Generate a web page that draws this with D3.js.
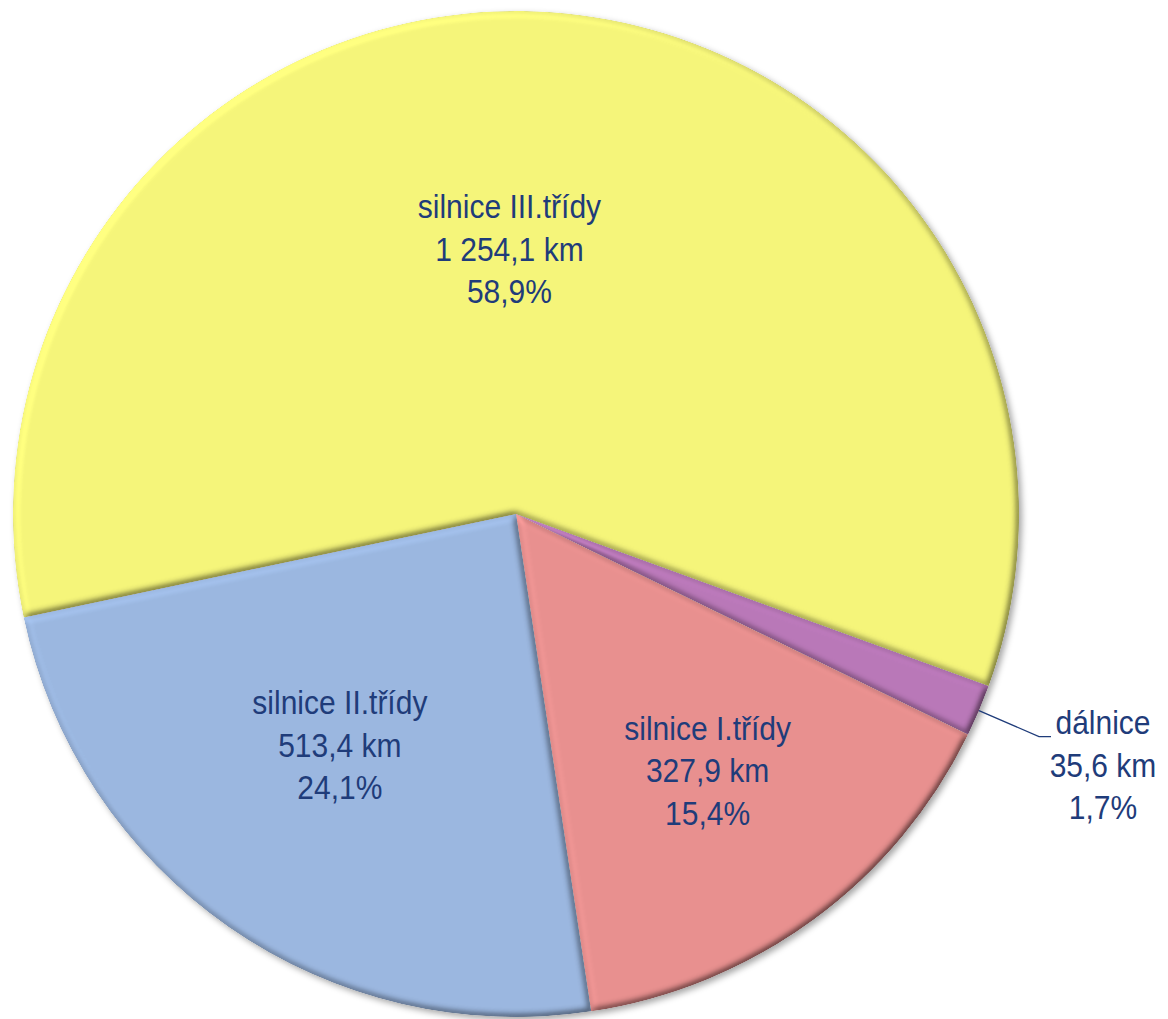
<!DOCTYPE html>
<html>
<head>
<meta charset="utf-8">
<script src="https://cdn.jsdelivr.net/npm/d3@7"></script>
<style>
  body { margin: 0; background: #fff; }
  svg { display: block; }
  .lbl { font-family: "Liberation Sans", Arial, sans-serif; font-size: 30px; fill: #1f3c7a; }
</style>
</head>
<body>
<div id="chart"></div>
<script>
// road lengths by class (km)
var categories = ["dálnice", "silnice I.třídy", "silnice II.třídy", "silnice III.třídy"];
var lengths = [35.6, 327.9, 513.4, 1254.1];
var kmLabels = ["35,6 km", "327,9 km", "513,4 km", "1 254,1 km"];
var pctLabels = ["1,7%", "15,4%", "24,1%", "58,9%"];
var colors = ["#b978b8", "#e8908f", "#9bb7e0", "#f5f57a"];

var width = 1168,
  height = 1019,
  cx = 516,
  cy = 514,
  radius = 503;

var svg = d3
  .select("#chart")
  .append("svg")
  .attr("width", width)
  .attr("height", height);

var defs = svg.append("defs");

// soft shadow round the whole pie
var shadow = defs
  .append("filter")
  .attr("id", "shadow")
  .attr("x", "-10%")
  .attr("y", "-10%")
  .attr("width", "120%")
  .attr("height", "120%");
shadow
  .append("feDropShadow")
  .attr("dx", 3)
  .attr("dy", 3)
  .attr("stdDeviation", 3)
  .attr("flood-color", "#000")
  .attr("flood-opacity", 0.35);

// bevel on each slice, light from top left
var bevel = defs
  .append("filter")
  .attr("id", "bevel")
  .attr("x", "-5%")
  .attr("y", "-5%")
  .attr("width", "110%")
  .attr("height", "110%");
bevel
  .append("feGaussianBlur")
  .attr("in", "SourceAlpha")
  .attr("stdDeviation", 3.5)
  .attr("result", "blur");
bevel
  .append("feDiffuseLighting")
  .attr("in", "blur")
  .attr("surfaceScale", 5)
  .attr("diffuseConstant", 1)
  .attr("lighting-color", "#fff")
  .attr("result", "light")
  .append("feDistantLight")
  .attr("azimuth", 225)
  .attr("elevation", 60);
bevel
  .append("feComposite")
  .attr("in", "SourceGraphic")
  .attr("in2", "light")
  .attr("operator", "arithmetic")
  .attr("k1", 1.155)
  .attr("k2", 0)
  .attr("k3", 0)
  .attr("k4", 0)
  .attr("result", "lit");
bevel
  .append("feComposite")
  .attr("in", "lit")
  .attr("in2", "SourceAlpha")
  .attr("operator", "in");

var pie = d3
  .pie()
  .sort(null)
  .value((d) => d)
  .startAngle((110 * Math.PI) / 180)
  .endAngle((110 * Math.PI) / 180 + 2 * Math.PI);

var arcs = pie(lengths);
var arc = d3.arc().innerRadius(0).outerRadius(radius);
var labelArc = d3.arc().innerRadius(radius * 0.6).outerRadius(radius * 0.6);

var g = svg.append("g").attr("transform", "translate(" + cx + "," + cy + ")");

g.append("g")
  .attr("filter", "url(#shadow)")
  .selectAll("path")
  .data(arcs)
  .enter()
  .append("path")
  .attr("d", arc)
  .attr("fill", (d, i) => colors[i])
  .attr("filter", "url(#bevel)");

// small nudges to sit the inner labels where Excel put them
var nudges = [null, [13, 14], [-4, -16], [-28, 37]];
var lineGap = 42.5;

arcs.forEach(function (d, i) {
  var x, y;
  if (i === 0) {
    // dálnice: outside label with a leader line
    var a = (d.startAngle + d.endAngle) / 2;
    var p0 = [Math.sin(a) * radius, -Math.cos(a) * radius];
    var p1 = [p0[0] + 60, p0[1] + 26];
    var p2 = [p1[0] + 12, p1[1]];
    g.append("polyline")
      .attr("points", [p0, p1, p2].map((p) => p.join(",")).join(" "))
      .attr("fill", "none")
      .attr("stroke", "#1f3c7a")
      .attr("stroke-width", 1.3);
    x = p2[0] + 52;
    y = p1[1] + 29;
  } else {
    var c = labelArc.centroid(d);
    x = c[0] + nudges[i][0];
    y = c[1] + nudges[i][1];
  }
  // the original text is a little taller than Liberation Sans
  var t = g
    .append("g")
    .attr("transform", "translate(" + x + "," + y + ") scale(1,1.08)")
    .append("text")
    .attr("class", "lbl")
    .attr("text-anchor", "middle")
    .attr("y", (-lineGap + 11) / 1.08);
  [categories[i], kmLabels[i], pctLabels[i]].forEach(function (s, k) {
    t.append("tspan")
      .attr("x", 0)
      .attr("dy", k === 0 ? 0 : lineGap / 1.08)
      .text(s);
  });
});
</script>
</body>
</html>
